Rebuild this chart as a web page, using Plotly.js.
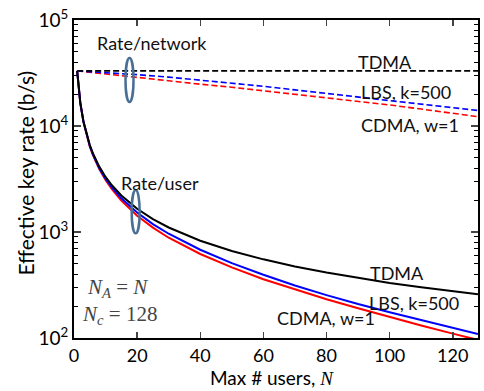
<!DOCTYPE html>
<html>
<head>
<meta charset="utf-8">
<script src="https://cdn.plot.ly/plotly-3.0.1.min.js"></script>
<style>html,body{margin:0;padding:0;background:#fff;}#chart{width:484px;height:391px;}</style>
</head>
<body>
<div id="chart"></div>
<script>
// Rate per network (dashed)
const netN = [1, 5, 10, 20, 30, 40, 50, 60, 70, 80, 90, 100, 110, 120, 128];
const tdmaNet = [33100, 33100, 33100, 33100, 33100, 33100, 33100, 33100, 33100, 33100, 33100, 33100, 33100, 33100, 33100];
const lbsNet = [33100, 32600, 31900, 30500, 28900, 27200, 25400, 23700, 21900, 20300, 18800, 17500, 16200, 15000, 14000];
const cdmaNet = [33100, 32100, 30900, 28500, 26500, 24800, 23200, 21500, 20000, 18600, 17200, 15800, 14450, 13200, 12250];

// Rate per user (solid)
const userN = [1, 2, 3, 4, 5, 6, 8, 10, 12, 15, 20, 25, 30, 40, 50, 60, 70, 80, 90, 100, 110, 120, 128];
const tdmaUser = [33100, 16550, 11030, 8280, 6620, 5520, 4140, 3310, 2760, 2210, 1655, 1324, 1103, 828, 662, 552, 473, 414, 368, 331, 301, 276, 259];
const lbsUser = [33100, 16490, 10950, 8180, 6520, 5410, 4020, 3190, 2635, 2080, 1525, 1188, 963, 680, 508, 395, 313, 254, 209, 175, 147, 125, 109];
const cdmaUser = [33100, 16400, 10870, 8090, 6420, 5310, 3920, 3090, 2535, 1980, 1425, 1100, 883, 620, 464, 358, 286, 232, 191, 158, 131, 110, 96];

const xTicks = [0, 20, 40, 60, 80, 100, 120];
const yTicks = [100, 1000, 10000, 100000];
const yTickText = ['10<sup>2</sup>', '10<sup>3</sup>', '10<sup>4</sup>', '10<sup>5</sup>'];

const FONT = 'Lato, "Open Sans", sans-serif';
const SERIF = '"Liberation Serif", "DejaVu Serif", serif';
const DASH = '6px,3px';

const traces = [
  {x: netN, y: cdmaNet, mode: 'lines', name: 'CDMA, w=1 (network)', line: {color: '#ff0000', width: 1.6, dash: DASH}},
  {x: netN, y: lbsNet, mode: 'lines', name: 'LBS, k=500 (network)', line: {color: '#0000ff', width: 1.6, dash: DASH}},
  {x: netN, y: tdmaNet, mode: 'lines', name: 'TDMA (network)', line: {color: '#000000', width: 1.6, dash: DASH}},
  {x: userN, y: cdmaUser, mode: 'lines', name: 'CDMA, w=1 (user)', line: {color: '#ff0000', width: 2}},
  {x: userN, y: lbsUser, mode: 'lines', name: 'LBS, k=500 (user)', line: {color: '#0000ff', width: 2}},
  {x: userN, y: tdmaUser, mode: 'lines', name: 'TDMA (user)', line: {color: '#000000', width: 2}}
];

function ann(text, x, y, xanchor, opts) {
  return Object.assign({
    text: text, x: x, y: y, xref: 'paper', yref: 'paper',
    xanchor: xanchor, yanchor: 'middle', showarrow: false, borderpad: 0,
    font: {family: FONT, size: 18, color: '#111'}
  }, opts || {});
}

const layout = {
  width: 484, height: 391,
  margin: {l: 74, r: 6, t: 20, b: 53},
  paper_bgcolor: '#fff', plot_bgcolor: '#fff',
  showlegend: false,
  font: {family: FONT, size: 18, color: '#000'},
  xaxis: {
    range: [0, 128], tickvals: xTicks, ticks: 'inside', ticklen: 6, tickwidth: 1.5,
    showline: true, linewidth: 2, linecolor: '#000', mirror: 'ticks', showgrid: false, zeroline: false,
    tickfont: {family: FONT, size: 18, color: '#000'}
  },
  yaxis: {
    type: 'log', range: [2, 5], tickvals: yTicks, ticktext: yTickText,
    ticks: 'inside', ticklen: 7, tickwidth: 1.5,
    minor: {ticks: 'inside', ticklen: 4, tickwidth: 1, tickcolor: '#000', dtick: 'D1', showgrid: false},
    showline: true, linewidth: 2, linecolor: '#000', mirror: 'ticks', showgrid: false, zeroline: false,
    tickfont: {family: FONT, size: 19, color: '#000'}
  },
  shapes: [
    {type: 'circle', xref: 'paper', yref: 'paper', x0: 0.1275, x1: 0.1473, y0: 0.7421, y1: 0.8805, line: {color: '#4a6f95', width: 2.5}},
    {type: 'circle', xref: 'paper', yref: 'paper', x0: 0.1428, x1: 0.1626, y0: 0.3292, y1: 0.4654, line: {color: '#4a6f95', width: 2.5}}
  ],
  annotations: [
    // axis titles
    ann('Max # users, <i><span style="font-family:' + "'Liberation Serif'" + '">N</span></i>', 0.489, -0.123, 'center', {font: {family: FONT, size: 19, color: '#000'}}),
    ann('Effective key rate (b/s)', -0.119, 0.52, 'center', {textangle: -90, font: {family: FONT, size: 21, color: '#000'}}),
    // curve labels
    ann('Rate/network', 0.193, 0.928, 'center'),
    ann('Rate/user', 0.213, 0.487, 'center'),
    ann('TDMA', 0.771, 0.868, 'center'),
    ann('LBS, k=500', 0.708, 0.774, 'left'),
    ann('CDMA, w=1', 0.708, 0.670, 'left'),
    ann('TDMA', 0.731, 0.204, 'left'),
    ann('LBS, k=500', 0.728, 0.110, 'left'),
    ann('CDMA, w=1', 0.500, 0.063, 'left'),
    ann('<i>N</i><sub><i>A</i></sub> = <i>N</i>', 0.030, 0.157, 'left', {font: {family: SERIF, size: 21, color: '#444'}}),
    ann('<i>N</i><sub><i>c</i></sub> = 128', 0.018, 0.072, 'left', {font: {family: SERIF, size: 21, color: '#444'}})
  ]
};

Plotly.newPlot('chart', traces, layout, {displayModeBar: false, staticPlot: true});
</script>
</body>
</html>
